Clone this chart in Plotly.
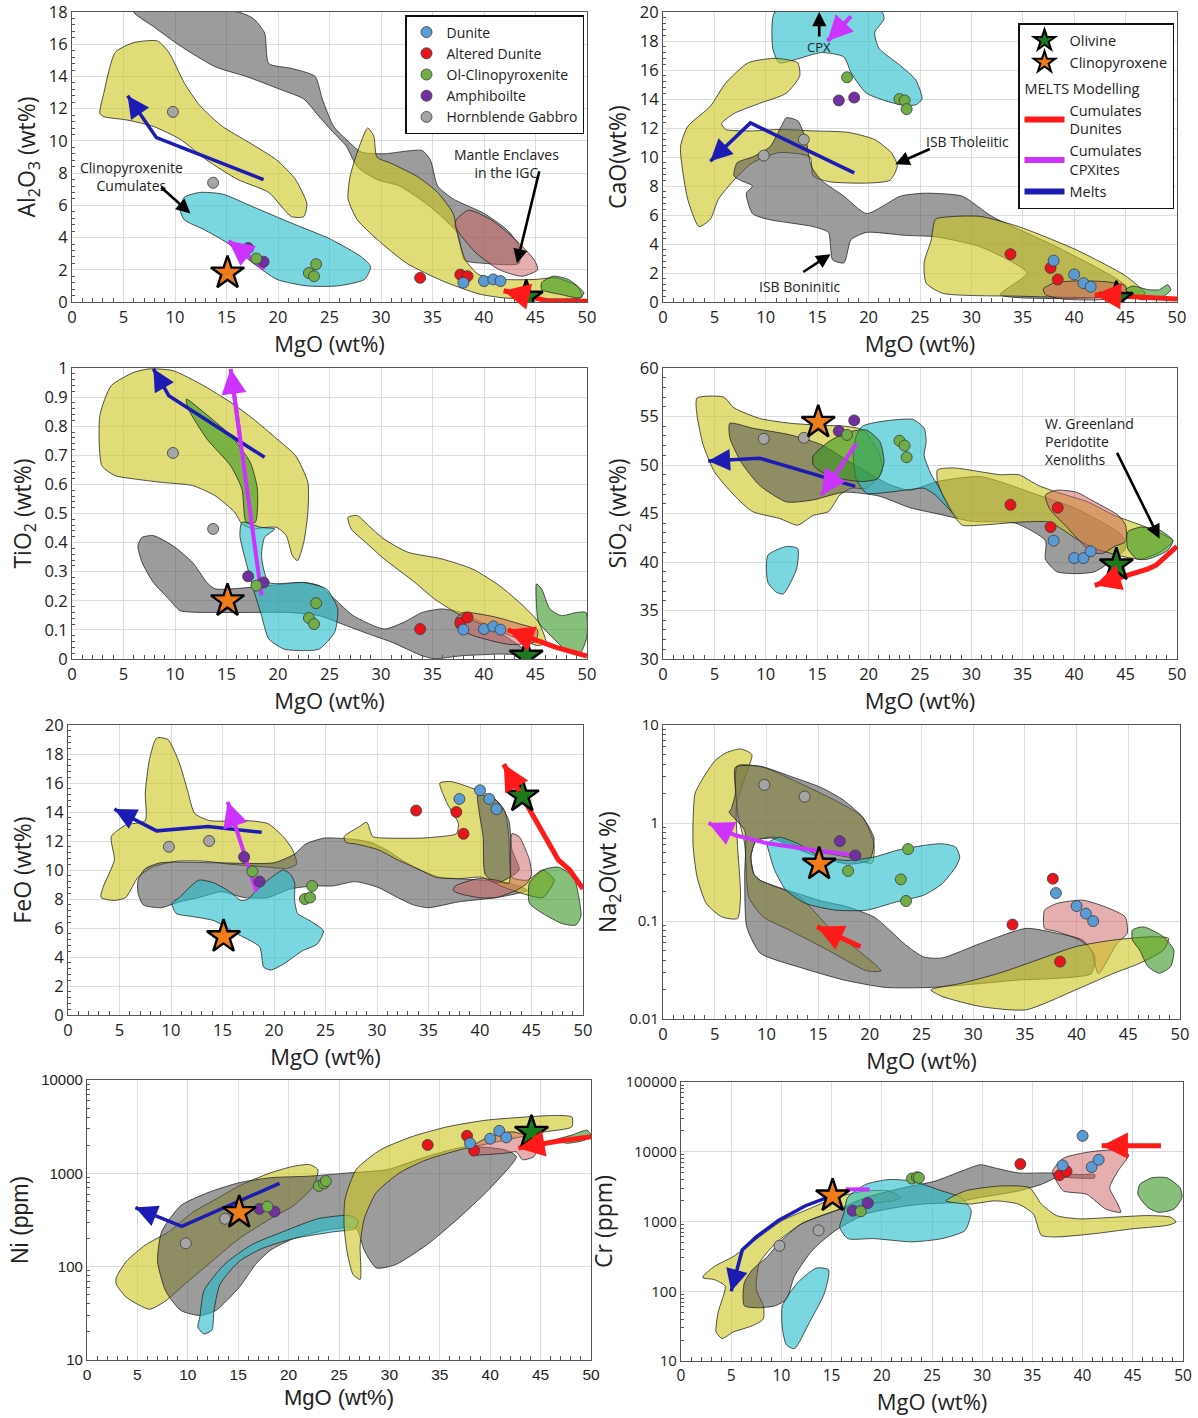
import math
import plotly.graph_objects as go

# ---------------- sample data (MgO wt% shared by all panels) ----------------
MGO_DUNITE = [38.0, 40.0, 40.9, 41.6]
MGO_ALTERED = [33.8, 37.7, 38.4]
MGO_OLCPX = [17.9, 23.0, 23.5, 23.7]
MGO_AMPH = [17.1, 18.6]
MGO_GABBRO = [9.8, 13.7]
MGO_CPX = [15.1]
MGO_OL = [44.1]

AL2O3_DUNITE = [1.2, 1.3, 1.4, 1.3]
AL2O3_ALTERED = [1.5, 1.7, 1.6]
AL2O3_OLCPX = [2.7, 1.8, 1.6, 2.35]
AL2O3_AMPH = [3.35, 2.5]
AL2O3_GABBRO = [11.8, 7.4]
AL2O3_CPX = [1.8]
AL2O3_OL = [0.3]

CAO_DUNITE = [2.85, 1.9, 1.3, 1.05]
CAO_ALTERED = [3.3, 2.35, 1.55]
CAO_OLCPX = [15.5, 14.0, 13.9, 13.3]
CAO_AMPH = [13.9, 14.1]
CAO_GABBRO = [10.1, 11.2]
CAO_CPX = [None]
CAO_OL = [0.25]

TIO2_DUNITE = [0.101, 0.103, 0.112, 0.101]
TIO2_ALTERED = [0.103, 0.124, 0.143]
TIO2_OLCPX = [0.252, 0.141, 0.12, 0.192]
TIO2_AMPH = [0.284, 0.263]
TIO2_GABBRO = [0.708, 0.447]
TIO2_CPX = [0.2]
TIO2_OL = [0.01]

SIO2_DUNITE = [42.2, 40.4, 40.4, 41.1]
SIO2_ALTERED = [45.9, 43.6, 45.6]
SIO2_OLCPX = [53.1, 52.5, 52.0, 50.8]
SIO2_AMPH = [53.5, 54.6]
SIO2_GABBRO = [52.7, 52.8]
SIO2_CPX = [54.4]
SIO2_OL = [39.7]

FEO_DUNITE = [14.9, 15.5, 14.9, 14.2]
FEO_ALTERED = [14.1, 14.0, 12.5]
FEO_OLCPX = [9.9, 8.0, 8.1, 8.9]
FEO_AMPH = [10.9, 9.2]
FEO_GABBRO = [11.6, 12.0]
FEO_CPX = [5.4]
FEO_OL = [15.1]

NA2O_DUNITE = [0.193, 0.142, 0.119, 0.0998]
NA2O_ALTERED = [0.092, 0.270, 0.0385]
NA2O_OLCPX = [0.324, 0.266, 0.160, 0.542]
NA2O_AMPH = [0.653, 0.467]
NA2O_GABBRO = [2.45, 1.86]
NA2O_CPX = [0.38]
NA2O_OL = [None]

NI_DUNITE = [2100, 2350, 2851, 2427]
NI_ALTERED = [2014, 2522, 1754]
NI_OLCPX = [440, 733, 781, 826]
NI_AMPH = [416, 389]
NI_GABBRO = [178, 326]
NI_CPX = [380]
NI_OL = [2750]

CR_DUNITE = [6383, 16900, 6040, 7674]
CR_ALTERED = [6670, 4613, 5248]
CR_OLCPX = [1400, 4130, 4315, 4230]
CR_AMPH = [1429, 1836]
CR_GABBRO = [449, 746]
CR_CPX = [2330]
CR_OL = [None]

# ---------------- literature fields (MgO, oxide) outlines ----------------
AL_GRAY = [(6.0,18),(16.1,18),(17.6,17.6),(18.7,16.7),(19.1,14.8),(21.3,14.5),(23.6,14.0),(24.3,12.6),(25.4,10.9),(26.6,10.1),(28.1,9.3),(30.3,9.2),(34.0,9.4),(34.8,8.8),(35.5,7.2),(37.0,6.4),(40.0,5.5),(42.2,4.5),(43.4,3.5),(43.4,2.4),(40.0,2.4),(38.1,2.6),(37.4,4.3),(34.8,5.9),(31.8,7.2),(29.6,7.6),(27.7,8.4),(26.6,9.7),(25.4,10.5),(24.0,11.5),(22.5,12.6),(20.2,13.2),(16.9,14.0),(13.9,14.6),(10.5,15.9),(7.9,17.1)]
AL_YELLOW1 = [(2.7,11.7),(3.1,13.0),(4.2,15.5),(6.0,16.1),(8.3,16.2),(9.4,15.5),(10.9,13.6),(12.4,12.2),(14.6,10.9),(17.2,9.9),(19.9,8.8),(21.7,7.6),(22.8,6.1),(22.5,5.3),(21.3,5.3),(19.1,6.8),(16.1,7.6),(13.1,8.8),(10.5,10.1),(7.9,10.9),(5.3,11.3),(3.1,11.5)]
AL_YELLOW2 = [(26.8,6.4),(27.0,7.8),(27.7,9.3),(28.7,10.8),(29.3,10.3),(29.6,9.0),(31,8.6),(33.5,7.8),(35.5,6.8),(37.0,5.5),(37.5,4.0),(38.2,2.6),(39.5,1.7),(42,1.4),(45,1.4),(47,1.5),(49,1.0),(49.5,0.3),(46,0.2),(42,0.25),(39.5,0.5),(36,1.3),(32.5,2.4),(29.6,3.9),(27.7,5.1)]
AL_CYAN = [(10.5,5.7),(10.9,6.5),(12.4,6.8),(14.6,6.7),(17.6,5.9),(21.3,4.9),(25.1,3.9),(28.1,2.8),(29.0,2.2),(28.4,1.4),(25.8,1.0),(22.8,1.0),(19.9,1.4),(17.6,2.4),(15.0,3.7),(12.8,4.5),(10.9,5.1)]
AL_PINK = [(37.3,5.1),(38.5,5.7),(40.7,5.1),(43.0,3.9),(44.9,2.6),(45.2,2.0),(43.7,1.6),(41.5,2.0),(39.3,3.0),(37.8,4.1),(37.2,4.7)]
AL_GREEN = [(45.6,1.2),(46.7,1.6),(48.2,1.4),(49.7,0.56),(49.3,0.25),(47.5,0.46),(45.6,0.77)]

CA_CYAN = [(10.9,20),(21.3,20),(21.5,19.5),(20.6,18.6),(21.0,17.5),(23.1,16.3),(24.6,15.3),(25.2,14.0),(24.6,13.6),(23.1,13.6),(19.8,14.4),(18.3,15.8),(17.6,16.9),(15.4,17.2),(12.8,16.7),(11.3,16.5),(10.7,17.4),(10.6,19.0)]
CA_YELLOW1 = [(3.5,5.2),(2.4,7.1),(1.7,10.7),(2.4,12.1),(4.6,13.5),(6.1,15.1),(8.3,16.5),(10.9,16.8),(13.1,16.5),(13.3,15.6),(12.0,14.4),(9.4,13.7),(6.9,13.0),(5.7,12.3),(6.1,11.9),(8.7,11.8),(11.3,11.9),(14.6,11.8),(18.0,11.7),(20.6,11.2),(22.2,10.3),(22.8,9.4),(22.1,8.4),(19.8,8.2),(16.1,8.3),(14.6,8.7),(14.3,10.0),(11.3,10.3),(8.7,9.6),(6.9,8.4),(5.4,7.1),(4.6,5.7)]
CA_GRAY = [(12.0,12.7),(13.1,12.5),(13.9,11.2),(14.4,9.4),(15.4,8.4),(17.6,7.3),(19.8,6.1),(23.1,7.3),(25.4,7.5),(29.1,7.3),(32.0,5.9),(38.3,3.8),(45,1.1),(44.6,0.5),(32.8,0.5),(35.4,2.0),(30.9,3.8),(26.5,4.5),(23.5,4.6),(19.8,4.8),(18.3,4.3),(17.6,2.7),(16.5,2.9),(16.3,3.8),(16.1,4.8),(14.6,5.2),(10.2,5.7),(8.7,6.1),(8.1,7.5),(8.7,8.0),(7.5,8.4),(6.9,8.7),(7.2,9.6),(8.7,10.0),(10.4,10.7),(11.5,12.1)]
CA_YELLOW2 = [(26.5,5.7),(28.3,5.9),(30.9,5.9),(34.6,5.2),(40.2,3.6),(45.0,1.8),(46.9,0.6),(46.5,0.4),(42.0,0.3),(34.6,0.4),(27.2,0.6),(25.6,1.3),(25.4,2.7),(26.1,4.3)]
CA_PINK = [(37,0.9),(38,1.3),(40,1.45),(43,1.4),(45,1.1),(45,0.4),(42,0.15),(39,0.2),(37.2,0.5)]
CA_GREEN = [(45,0.85),(45.7,1.1),(47.2,0.85),(48.3,0.85),(49.1,1.2),(49.4,0.85),(48.7,0.4),(46.5,0.16)]

TI_YELLOW1 = [(2.9,0.664),(2.7,0.836),(3.8,0.939),(6.0,0.985),(7.5,0.997),(9.8,0.991),(12.8,0.939),(15.4,0.882),(17.6,0.825),(19.9,0.756),(21.7,0.699),(22.9,0.607),(22.9,0.504),(22.5,0.401),(21.9,0.338),(21.4,0.355),(20.8,0.424),(19.9,0.452),(18.7,0.452),(17.6,0.447),(16.5,0.464),(15.8,0.504),(13.9,0.561),(11.7,0.596),(8.7,0.607),(6.0,0.619),(4.2,0.630)]
TI_GREEN1 = [(11.1,0.893),(12.8,0.848),(15.4,0.768),(17.3,0.676),(18.0,0.584),(17.8,0.47),(16.9,0.47),(16.5,0.584),(15.4,0.664),(13.1,0.756),(11.3,0.859)]
TI_CYAN = [(16.5,0.47),(18.4,0.452),(19.7,0.447),(18.7,0.418),(18.4,0.355),(19.1,0.263),(22.5,0.263),(24.7,0.241),(25.8,0.172),(25.5,0.092),(24.0,0.034),(22.5,0.029),(20.6,0.034),(19.1,0.069),(18.4,0.149),(17.6,0.241),(16.9,0.332),(16.3,0.424)]
TI_GRAY = [(6.8,0.418),(7.9,0.424),(9.8,0.389),(11.7,0.332),(13.1,0.263),(13.9,0.241),(19.1,0.252),(22.5,0.263),(24.0,0.252),(25.5,0.206),(27.3,0.149),(30.3,0.103),(32.2,0.126),(34.0,0.160),(35.9,0.172),(37.8,0.160),(41.5,0.092),(43.4,0.046),(44.5,0.017),(41.5,0.017),(37.8,0.011),(35.2,0.001),(34.0,0.011),(31.1,0.057),(28.8,0.086),(26.6,0.115),(24.0,0.149),(21.0,0.160),(17.2,0.160),(13.9,0.160),(10.5,0.166),(9.4,0.206),(7.9,0.263),(6.8,0.332),(6.4,0.389)]
TI_YELLOW2 = [(26.8,0.487),(27.7,0.493),(28.8,0.458),(30.3,0.412),(32.6,0.367),(35.9,0.344),(38.9,0.309),(41.5,0.252),(43.8,0.183),(45.3,0.126),(46.0,0.057),(45.3,0.046),(43.4,0.069),(37.8,0.149),(35.2,0.206),(33.3,0.263),(30.3,0.344),(28.5,0.401),(27.1,0.447)]
TI_PINK = [(37.3,0.14),(38,0.16),(41,0.145),(43.5,0.12),(45.2,0.1),(45,0.06),(42.5,0.05),(39,0.08),(37.3,0.11)]
TI_GREEN2 = [(45.1,0.258),(45.6,0.24),(46.4,0.172),(47.5,0.149),(49.0,0.160),(49.9,0.160),(50,0.080),(49.4,0.023),(48.2,0.023),(46.8,0.069),(45.3,0.126),(45.1,0.183)]

SI_YELLOW1 = [(3.3,56.9),(5.9,57.0),(6.9,55.9),(9.4,54.8),(12.4,54.3),(15.4,54.1),(17.6,54.0),(19.5,53.6),(21.1,51.0),(21.3,49.3),(19.8,47.6),(18.3,47.6),(17.2,46.9),(16.1,45.2),(14.6,44.8),(13.1,43.8),(11.3,44.5),(8.7,45.2),(6.9,46.9),(5.0,49.3),(3.9,52.1),(3.3,55.2)]
SI_GRAY = [(6.5,54.3),(8.7,53.8),(12.4,53.1),(15.4,52.1),(17.6,50.7),(19.8,49.3),(22,48.0),(24,47.4),(26.7,48.3),(30.9,48.8),(36.5,46.9),(40.2,45.5),(44.6,42.8),(45,41.4),(43.9,40.3),(42,39.0),(40.2,38.8),(38.3,39.0),(37.2,40.3),(37.2,42.2),(34.3,44.0),(30,44.2),(27,44.9),(24,45.6),(21,46.8),(17.6,47.2),(14.6,46.4),(12.0,46.2),(9.4,47.9),(7.6,50.3),(6.5,52.8)]
SI_CYAN1 = [(19.4,54.0),(21.3,54.5),(24.3,54.7),(25.4,53.8),(25.6,52.4),(25.4,51.0),(26.1,49.0),(26.9,47.6),(28.0,45.5),(28.7,44.5),(27.5,45.8),(26.5,46.9),(25.4,47.6),(23.5,47.4),(22.0,47.2),(19.8,47.1),(18.8,48.5),(18.5,51),(18.8,53)]
SI_CYAN2 = [(10.2,40.7),(12.0,41.6),(13.1,41.4),(13.0,39.3),(11.7,36.7),(11.0,36.9),(10.2,37.9)]
SI_GREEN1 = [(14.6,50.9),(16.1,52.4),(18.0,53.4),(19.8,53.6),(21.1,52.4),(21.5,50.3),(20.9,48.6),(19.4,48.3),(17.2,48.6),(15.4,49.3),(14.6,50.0)]
SI_YELLOW2 = [(26.7,49.5),(28.3,49.7),(30.9,49.3),(32.8,49.0),(34.6,49.0),(36.5,47.9),(38.3,47.2),(41.3,46.2),(43.9,44.8),(46.5,43.8),(48.7,42.8),(49.6,42.2),(48.3,41.0),(46.5,40.3),(45.0,40.5),(42.0,41.4),(40.2,42.4),(37.6,44.1),(34.6,44.1),(30.9,43.8),(29.1,43.8),(28.3,44.8),(27.2,46.9),(26.7,48.3)]
SI_PINK = [(37.2,46.9),(38.3,47.4),(40.2,47.2),(42.0,46.2),(44.3,44.8),(45.0,43.8),(45.0,42.1),(43.9,41.6),(42.8,40.9),(41.7,41.0),(40.6,42.1),(39.1,43.8),(37.6,45.5)]
SI_GREEN2 = [(45.2,43.1),(46.5,43.6),(48.3,43.3),(49.6,42.2),(49.1,41.2),(47.2,40.3),(46.1,40.3),(45.2,41.4)]

FE_YELLOW1 = [(3.2,8.1),(3.4,8.8),(4.5,10.7),(4.2,12.3),(5.6,13.1),(7.5,13.4),(7.5,15.3),(7.9,17.6),(8.6,19.1),(9.7,19.0),(10.8,17.4),(11.6,15.5),(12.3,13.9),(13.8,13.4),(17.5,13.4),(19.4,13.2),(20.9,12.3),(21.8,11.4),(22.2,10.4),(21.2,10.1),(19.4,10.2),(15.7,10.4),(13.4,10.6),(10.5,10.6),(8.2,10.2),(6.8,9.5),(5.6,8.1),(4.5,7.9)]
FE_GRAY1 = [(6.8,9.3),(7.5,10.1),(9.0,10.5),(14.2,10.5),(20,10.5),(22.0,11.1),(23.1,11.8),(24.9,12.2),(27.9,12.1),(29.4,11.9),(30.9,11.4),(32.4,10.7),(34.2,10.0),(36.1,9.5),(37.9,9.4),(40.2,9.3),(42.8,9.1),(44.6,8.6),(41.6,8.1),(37.9,7.8),(35.0,7.4),(33.5,7.6),(32.0,8.1),(30.1,8.8),(27.9,9.2),(25.7,8.9),(23.8,8.9),(21.6,8.7),(19.4,8.1),(17.1,8.1),(14.9,8.5),(12.7,8.1),(10.8,7.8),(9.0,7.4),(7.3,7.6),(6.8,8.4)]
FE_CYAN = [(10.1,7.7),(10.8,8.1),(12.7,9.3),(14.2,9.1),(15.7,8.5),(16.8,7.9),(17.5,8.0),(18.3,8.6),(19.4,9.3),(20.9,10.0),(21.6,9.7),(22.0,9.1),(22.0,7.9),(22.3,7.0),(23.5,6.5),(24.8,5.8),(24.2,4.9),(22.7,4.4),(20.9,3.5),(19.7,3.1),(19.0,3.3),(18.6,4.7),(16.4,5.6),(14.2,6.5),(12.0,6.8),(10.5,7.0)]
FE_YELLOW2 = [(26.8,12.3),(28.3,13.0),(29.0,13.3),(29.6,12.3),(31,12.2),(34.2,12.2),(36.1,12.3),(37.7,12.5),(37.9,13.2),(36.8,14.6),(36.1,16.0),(37.2,16.1),(39.0,15.7),(41.3,15.0),(42.4,14.1),(42.8,12.3),(43.1,9.5),(44.6,9.3),(46.1,10.0),(47.2,9.3),(46.1,8.1),(44,8.4),(42,8.9),(40.2,9.5),(37.9,9.4),(35.7,9.5),(34.2,10.0),(32.0,10.7),(30.1,11.4),(27.9,11.8),(27.0,11.9)]
FE_GRAY2 = [(39.8,15.2),(41.6,14.8),(42.8,13.4),(43.1,11.4),(43.8,10.0),(41.6,9.1),(40.5,9.7),(40.3,12.3),(39.9,14.1)]
FE_PINK = [(37.6,8.9),(39.8,9.4),(41.6,9.3),(42.8,9.1),(43.1,12.5),(43.8,12.3),(44.8,10.7),(45.0,9.7),(44.6,9.1),(43.5,8.6),(41.6,8.1),(39.8,8.1),(37.9,8.4),(37.4,8.6)]
FE_GREEN = [(44.8,9.1),(46.1,10.0),(47.6,10.2),(49.1,9.5),(49.6,8.1),(49.8,6.8),(49.3,6.2),(48.0,6.3),(46.1,7.0),(44.8,7.7)]

NA_YELLOW1 = [(3.9,2.9),(5.0,4.3),(6.1,5.2),(7.5,5.7),(8.6,5.0),(7.9,2.9),(7.1,1.5),(7.2,0.6),(7.5,0.18),(7.2,0.106),(5.7,0.11),(4.2,0.15),(3.3,0.28),(2.9,0.61),(3.1,2.0)]
NA_YELLOW2 = [(7.2,3.83),(9.7,3.7),(13.4,2.5),(16.7,1.69),(19.3,1.15),(20.4,0.61),(20.2,0.39),(17.8,0.45),(14.5,0.52),(11.6,0.66),(10.7,0.72),(9.0,0.66),(8.5,0.45),(8.8,0.30),(9.4,0.26),(13.1,0.18),(14.5,0.13),(16.0,0.087),(18.9,0.05),(21.1,0.031),(19.7,0.031),(16.0,0.05),(12.3,0.08),(9.7,0.11),(8.3,0.175),(7.9,0.61),(7.2,1.3)]
NA_GRAY = [(7.0,3.7),(9.4,3.8),(12.3,3.0),(15.3,2.3),(17.5,1.7),(19.3,1.15),(20.4,0.7),(20.0,0.42),(18.0,0.38),(15,0.45),(12,0.6),(10.5,0.7),(9.0,0.66),(8.5,0.45),(8.8,0.30),(9.4,0.26),(11.2,0.22),(13.1,0.19),(15.3,0.16),(17.8,0.14),(20.4,0.11),(21.9,0.081),(23.3,0.059),(25.2,0.043),(27,0.042),(30.7,0.059),(35.1,0.084),(38.1,0.075),(40.6,0.064),(41.8,0.043),(41.4,0.029),(38.1,0.026),(34.4,0.025),(30.7,0.023),(25.9,0.021),(21.5,0.021),(17.5,0.025),(13.1,0.034),(9.4,0.047),(8.1,0.087),(7.9,0.28),(7.9,0.84),(6.4,1.29),(6.6,1.4),(7.0,2.0)]
NA_CYAN = [(10.1,0.614),(11.2,0.716),(13,0.62),(15.3,0.449),(17.8,0.415),(20.4,0.449),(22.6,0.525),(25.2,0.59),(27.0,0.614),(28.3,0.568),(28.7,0.449),(28.3,0.355),(27.0,0.24),(25.2,0.183),(22.6,0.157),(19.7,0.129),(16.7,0.129),(13.8,0.151),(11.9,0.206),(10.8,0.329),(10.3,0.485)]
NA_PINK = [(36.8,0.094),(36.9,0.129),(38.1,0.151),(40.6,0.163),(42.8,0.139),(44.7,0.110),(44.9,0.075),(43.9,0.059),(42.1,0.029),(41.4,0.051),(40.3,0.064),(38.1,0.078),(36.9,0.084)]
NA_YELLOW3 = [(25.9,0.0198),(28.9,0.0232),(32.5,0.0293),(36.2,0.04),(39.9,0.0547),(43.6,0.064),(47.2,0.069),(48.9,0.0665),(48.4,0.0506),(46.1,0.037),(43.6,0.0293),(39.9,0.0198),(35.1,0.0124),(30.7,0.0134),(27.0,0.017)]
NA_GREEN = [(45.4,0.081),(46.5,0.087),(48.4,0.069),(49.4,0.0506),(49.1,0.0343),(48.0,0.0293),(46.9,0.0343),(46.1,0.0506),(45.4,0.064)]

NI_YELLOW1 = [(2.9,76),(3.9,114),(5.8,171),(8.1,236),(10.5,383),(12.8,530),(15.1,733),(18.2,1012),(20.5,1191),(22.1,1240),(22.9,1096),(22.5,733),(20.5,451),(18.2,326),(15.1,200),(12.0,105),(9.7,65),(7.8,43),(6.2,35),(3.9,47),(2.9,65)]
NI_GRAY = [(7.0,114),(7.4,236),(9.3,451),(12.0,622),(15.1,794),(18.2,897),(22.1,933),(26.0,1011),(29.8,1096),(33.7,1514),(37.6,1932),(41.5,1780),(42.6,1514),(39.9,676),(36.8,326),(33.7,171),(30.6,105),(28.7,97),(27.5,150),(26.7,256),(24,250),(20.5,200),(18.2,150),(16.7,105),(15.1,60),(12.8,34),(11.2,30),(9.3,34),(7.8,55)]
NI_CYAN = [(11.2,29),(11.6,55),(13.6,105),(16.3,171),(19.4,236),(22.9,326),(26.0,353),(26.9,313),(26.6,256),(24.4,236),(20.5,200),(17.4,157),(15.1,114),(13.2,65),(12.6,34),(12.4,21),(11.6,19),(11.0,22.5)]
NI_YELLOW2 = [(25.6,530),(26.7,1096),(29.1,1782),(32.2,2466),(35.7,3144),(39.5,3698),(43.4,4010),(46.5,4170),(48.1,4010),(48.1,3144),(45.4,2784),(43.1,2466),(40.0,2100),(37.6,1858),(33.7,1400),(31.0,1011),(28.7,622),(27.5,326),(27.1,171),(27.1,73),(26.4,82),(25.8,145),(25.5,277)]
NI_PINK = [(38.0,1858),(39.9,2460),(42.2,2784),(43.8,2466),(44.7,1860),(44.3,1500),(43.2,1400),(42.6,1700),(41.5,1644),(39.5,1585),(38.1,1585)]
NI_GREEN = [(46.5,2275),(48.1,2570),(49.6,2900),(50,2570),(49.4,2275),(47.6,2100)]

CR_YELLOW1 = [(2.2,164),(3.3,226),(5.2,314),(7.8,601),(10.1,1033),(13.1,1594),(15.4,2208),(18.4,2740),(20.7,2740),(21.9,2208),(21.1,1977),(18.4,1778),(15.4,1429),(12.0,927),(9.4,484),(7.8,252),(7.5,106),(8.2,62),(8.2,40),(7.1,32),(5.2,26),(4.1,21),(3.5,26),(3.7,50),(4.4,118),(3.3,147),(2.2,155)]
CR_YELLOW2 = [(26.4,1977),(28.3,2740),(31.7,3222),(34.7,3056),(35.9,1778),(37.4,1216),(39.7,1091),(43.1,1151),(46.5,1216),(48.8,1151),(49.3,979),(48.4,879),(45.0,787),(41.2,670),(37.4,601),(35.9,634),(35.1,1282),(33.6,1778),(31.3,1977),(28.7,1778)]
CR_GRAY = [(6.3,62),(6.3,132),(7.1,203),(8.6,313),(9.7,484),(12.0,927),(15.4,1429),(18.4,2208),(22.2,3056),(25.3,3793),(27.9,5248),(29.8,6516),(31.3,5847),(33.6,4966),(36.6,4966),(39.7,4710),(41.2,4710),(41.2,4230),(37.4,4230),(35.9,3404),(33.6,2740),(29.8,2208),(27.2,1875),(24.1,1778),(21.5,1594),(18.4,1282),(15.4,746),(13.1,390),(11.3,164),(10.5,77),(9.4,62),(7.8,58)]
CR_CYAN1 = [(16.2,1282),(16.6,2208),(18.4,3404),(20.7,4000),(23.0,3793),(26.0,2740),(27.9,2208),(28.9,1429),(28.3,746),(26.0,569),(23.0,511),(19.2,569),(16.6,569),(15.8,832)]
CR_CYAN2 = [(10.1,62),(11.6,132),(13.5,215),(14.7,203),(14.3,95),(12.8,36),(11.3,15),(10.5,17),(10.1,29)]
CR_PINK = [(37.0,5248),(38.1,8090),(40.8,10000),(43.8,10600),(44.6,9016),(43.5,5248),(42.7,3056),(43.5,1778),(43.8,1355),(42.3,1510),(40.4,2455),(38.1,2740),(37.4,3793)]
CR_GREEN = [(45.7,3404),(46.9,4230),(48.4,4230),(49.7,3056),(49.9,2208),(49.1,1510),(47.6,1355),(46.5,1594),(45.5,2455)]

# ---------------- MELTS model paths ----------------
AL_BLUE = [(18.6,7.6),(8.2,10.2),(5.4,12.8)]
AL_MAGENTA = [(18.7,2.05),(15.2,3.8)]
AL_RED = [(50,0.05),(46.3,0.05),(41.9,0.7)]
CA_BLUE = [(18.6,8.9),(8.5,12.35),(4.6,9.7)]
CA_MAGENTA = [(18.3,19.7),(16.0,18.0)]
CA_RED = [(50,0.2),(46,0.35),(42,0.5)]
TI_BLUE = [(18.7,0.693),(9.4,0.905),(7.9,0.997)]
TI_MAGENTA = [(18.4,0.218),(15.4,0.997)]
TI_RED = [(50,0.01),(47,0.04),(42.3,0.1)]
SI_BLUE = [(18.7,47.8),(9.4,50.7),(4.4,50.4)]
SI_MAGENTA = [(18.8,52.2),(15.4,46.9)]
SI_RED = [(50,41.6),(48.0,39.7),(47.2,39.3),(42.0,37.6)]
FE_BLUE = [(18.8,12.6),(13.6,13.0),(8.6,12.7),(4.5,14.2)]
FE_MAGENTA = [(18.3,8.5),(15.5,14.7)]
FE_RED = [(50,8.7),(48.7,10.0),(47.6,10.7),(42.3,17.3)]
NA_MAGENTA = [(18.6,0.47),(14.5,0.53),(10.1,0.62),(7,0.75),(4.4,1.0)]
NA_RED = [(19.1,0.0547),(14.9,0.0873)]
NI_BLUE = [(19.1,781),(9.4,270),(4.8,430)]
NI_RED = [(50,2466),(46.5,2190),(42.8,1862)]
CR_MAGENTA = [(18.8,2890),(16.4,2890)]
CR_BLUE = [(15.0,2330),(12.4,1683),(9.7,1033),(7.5,601),(6.1,390),(5.0,100)]
CR_RED = [(47.8,12220),(41.9,12220)]

# ---------------- styles ----------------
FILL = {
    "gray": "rgba(85,85,85,0.58)",
    "yellow": "rgba(205,198,35,0.62)",
    "cyan": "rgba(40,190,205,0.62)",
    "green": "rgba(55,150,35,0.6)",
    "pink": "rgba(205,95,95,0.5)",
}
C_DUNITE = "#5b9bd5"
C_ALTERED = "#e8141b"
C_OLCPX = "#70ad47"
C_AMPH = "#7030a0"
C_GABBRO = "#a5a5a5"
C_RED = "#ff1a1a"
C_MAG = "#cc33ff"
C_BLUE = "#1c1cb4"

PANELS = [
    dict(yt="Al<sub>2</sub>O<sub>3</sub> (wt%)", yr=[0, 18], dt=2, log=False,
         fields=[("gray", AL_GRAY), ("yellow", AL_YELLOW1), ("yellow", AL_YELLOW2), ("cyan", AL_CYAN), ("pink", AL_PINK), ("green", AL_GREEN)],
         pts=(AL2O3_DUNITE, AL2O3_ALTERED, AL2O3_OLCPX, AL2O3_AMPH, AL2O3_GABBRO, AL2O3_CPX, AL2O3_OL),
         arrows=[(AL_BLUE, C_BLUE, 3.5), (AL_MAGENTA, C_MAG, 4), (AL_RED, C_RED, 5)],
         dom=(72, 587, 12, 302)),
    dict(yt="CaO(wt%)", yr=[0, 20], dt=2, log=False,
         fields=[("cyan", CA_CYAN), ("yellow", CA_YELLOW1), ("gray", CA_GRAY), ("yellow", CA_YELLOW2), ("pink", CA_PINK), ("green", CA_GREEN)],
         pts=(CAO_DUNITE, CAO_ALTERED, CAO_OLCPX, CAO_AMPH, CAO_GABBRO, CAO_CPX, CAO_OL),
         arrows=[(CA_BLUE, C_BLUE, 3.5), (CA_MAGENTA, C_MAG, 4), (CA_RED, C_RED, 5)],
         dom=(663, 1177, 12, 302)),
    dict(yt="TiO<sub>2</sub> (wt%)", yr=[0, 1], dt=0.1, log=False,
         fields=[("gray", TI_GRAY), ("yellow", TI_YELLOW1), ("green", TI_GREEN1), ("cyan", TI_CYAN), ("yellow", TI_YELLOW2), ("pink", TI_PINK), ("green", TI_GREEN2)],
         pts=(TIO2_DUNITE, TIO2_ALTERED, TIO2_OLCPX, TIO2_AMPH, TIO2_GABBRO, TIO2_CPX, TIO2_OL),
         arrows=[(TI_BLUE, C_BLUE, 3.5), (TI_MAGENTA, C_MAG, 4), (TI_RED, C_RED, 5)],
         dom=(72, 587, 368, 659)),
    dict(yt="SiO<sub>2</sub> (wt%)", yr=[30, 60], dt=5, log=False,
         fields=[("yellow", SI_YELLOW1), ("gray", SI_GRAY), ("cyan", SI_CYAN1), ("cyan", SI_CYAN2), ("green", SI_GREEN1), ("yellow", SI_YELLOW2), ("pink", SI_PINK), ("green", SI_GREEN2)],
         pts=(SIO2_DUNITE, SIO2_ALTERED, SIO2_OLCPX, SIO2_AMPH, SIO2_GABBRO, SIO2_CPX, SIO2_OL),
         arrows=[(SI_BLUE, C_BLUE, 3.5), (SI_MAGENTA, C_MAG, 4), (SI_RED, C_RED, 5)],
         dom=(663, 1177, 368, 659)),
    dict(yt="FeO (wt%)", yr=[0, 20], dt=2, log=False,
         fields=[("yellow", FE_YELLOW1), ("gray", FE_GRAY1), ("cyan", FE_CYAN), ("yellow", FE_YELLOW2), ("gray", FE_GRAY2), ("pink", FE_PINK), ("green", FE_GREEN)],
         pts=(FEO_DUNITE, FEO_ALTERED, FEO_OLCPX, FEO_AMPH, FEO_GABBRO, FEO_CPX, FEO_OL),
         arrows=[(FE_BLUE, C_BLUE, 3.5), (FE_MAGENTA, C_MAG, 4), (FE_RED, C_RED, 5)],
         dom=(68, 583, 725, 1015)),
    dict(yt="Na<sub>2</sub>O(wt %)", yr=[-2, 1], dt=None, log=True, tv=[0.01, 0.1, 1, 10], tt=["0.01", "0.1", "1", "10"],
         fields=[("yellow", NA_YELLOW1), ("yellow", NA_YELLOW2), ("gray", NA_GRAY), ("cyan", NA_CYAN), ("pink", NA_PINK), ("yellow", NA_YELLOW3), ("green", NA_GREEN)],
         pts=(NA2O_DUNITE, NA2O_ALTERED, NA2O_OLCPX, NA2O_AMPH, NA2O_GABBRO, NA2O_CPX, NA2O_OL),
         arrows=[(NA_MAGENTA, C_MAG, 4), (NA_RED, C_RED, 5)],
         dom=(663, 1180, 725, 1019)),
    dict(yt="Ni (ppm)", yr=[1, 4], dt=None, log=True, tv=[10, 100, 1000, 10000], tt=["10", "100", "1000", "10000"],
         fields=[("yellow", NI_YELLOW1), ("gray", NI_GRAY), ("cyan", NI_CYAN), ("yellow", NI_YELLOW2), ("pink", NI_PINK), ("green", NI_GREEN)],
         pts=(NI_DUNITE, NI_ALTERED, NI_OLCPX, NI_AMPH, NI_GABBRO, NI_CPX, NI_OL),
         arrows=[(NI_BLUE, C_BLUE, 3.5), (NI_RED, C_RED, 5)],
         dom=(87, 591, 1080, 1360)),
    dict(yt="Cr (ppm)", yr=[1, 5], dt=None, log=True, tv=[10, 100, 1000, 10000, 100000], tt=["10", "100", "1000", "10000", "100000"],
         fields=[("yellow", CR_YELLOW1), ("gray", CR_GRAY), ("cyan", CR_CYAN1), ("cyan", CR_CYAN2), ("yellow", CR_YELLOW2), ("pink", CR_PINK), ("green", CR_GREEN)],
         pts=(CR_DUNITE, CR_ALTERED, CR_OLCPX, CR_AMPH, CR_GABBRO, CR_CPX, CR_OL),
         arrows=[(CR_MAGENTA, C_MAG, 4), (CR_BLUE, C_BLUE, 3.5), (CR_RED, C_RED, 5)],
         dom=(681, 1183, 1082, 1361)),
]

W, H = 1198, 1418
fig = go.Figure()
annotations = []
layout = {}


def ax_names(i):
    return ("x" if i == 1 else f"x{i}"), ("y" if i == 1 else f"y{i}")


for i, p in enumerate(PANELS, start=1):
    xa, ya = ax_names(i)
    for col, poly in p["fields"]:
        xs = [q[0] for q in poly] + [poly[0][0]]
        ys = [q[1] for q in poly] + [poly[0][1]]
        fig.add_trace(go.Scatter(x=xs, y=ys, mode="lines", fill="toself", fillcolor=FILL[col],
                                 line=dict(color="rgba(30,30,30,0.85)", width=0.9, shape="spline", smoothing=0.6),
                                 xaxis=xa, yaxis=ya, hoverinfo="skip", showlegend=False))

for i, p in enumerate(PANELS, start=1):
    xa, ya = ax_names(i)
    for path, col, w in p["arrows"]:
        xs = [q[0] for q in path]
        ys = [q[1] for q in path]
        fig.add_trace(go.Scatter(x=xs, y=ys, mode="lines", line=dict(color=col, width=w),
                                 xaxis=xa, yaxis=ya, hoverinfo="skip", showlegend=False))
        f = (lambda v: math.log10(v)) if p["log"] else (lambda v: v)
        tx, ty = xs[-1], f(ys[-1])
        px, py = xs[-2], f(ys[-2])
        frac = 0.3
        annotations.append(dict(x=tx, y=ty, ax=tx + frac * (px - tx), ay=ty + frac * (py - ty),
                                xref=xa, yref=ya, axref=xa, ayref=ya,
                                text="", showarrow=True, arrowhead=2,
                                arrowsize=1.05 if w >= 5 else 1.25, arrowwidth=w,
                                arrowcolor=col, standoff=0))

for i, p in enumerate(PANELS, start=1):
    xa, ya = ax_names(i)
    dun, alt, olc, amp, gab, cpx, ol = p["pts"]
    for mg, vals, col in ((MGO_GABBRO, gab, C_GABBRO), (MGO_AMPH, amp, C_AMPH), (MGO_OLCPX, olc, C_OLCPX),
                          (MGO_ALTERED, alt, C_ALTERED), (MGO_DUNITE, dun, C_DUNITE)):
        fig.add_trace(go.Scatter(x=mg, y=vals, mode="markers",
                                 marker=dict(size=11, color=col, line=dict(color="#3a3a3a", width=0.8)),
                                 xaxis=xa, yaxis=ya, hoverinfo="skip", showlegend=False))
    for mg, vals, col in ((MGO_CPX, cpx, "#f07d1a"), (MGO_OL, ol, "#1b7a1b")):
        fig.add_trace(go.Scatter(x=mg, y=vals, mode="markers",
                                 marker=dict(size=25, symbol="star", color=col, line=dict(color="black", width=2.4)),
                                 xaxis=xa, yaxis=ya, hoverinfo="skip", showlegend=False))

# legend-only entries
for name, col in (("Dunite", C_DUNITE), ("Altered Dunite", C_ALTERED), ("Ol-Clinopyroxenite", C_OLCPX),
                  ("Amphiboilte", C_AMPH), ("Hornblende Gabbro", C_GABBRO)):
    fig.add_trace(go.Scatter(x=[None], y=[None], mode="markers", name=name, legend="legend",
                             marker=dict(size=11, color=col, line=dict(color="#3a3a3a", width=0.8))))
for name, col in (("Olivine", "#1b7a1b"), ("Clinopyroxene", "#f07d1a")):
    fig.add_trace(go.Scatter(x=[None], y=[None], mode="markers", name=name, legend="legend2", legendgroup="min",
                             marker=dict(size=18, symbol="star", color=col, line=dict(color="black", width=2))))
first = True
for name, col in (("Cumulates<br>Dunites", C_RED), ("Cumulates<br>CPXites", C_MAG), ("Melts", C_BLUE)):
    fig.add_trace(go.Scatter(x=[None], y=[None], mode="lines", name=name, legend="legend2", legendgroup="melts",
                             legendgrouptitle=dict(text="MELTS Modelling") if first else None,
                             line=dict(color=col, width=6)))
    first = False


def label(i, x, y, text, align="center", xanchor="center", size=14):
    xa, ya = ax_names(i)
    annotations.append(dict(x=x, y=y, xref=xa, yref=ya, text=text, showarrow=False, align=align,
                            xanchor=xanchor, font=dict(size=size, color="#222")))


def pointer(i, tail, tip):
    xa, ya = ax_names(i)
    annotations.append(dict(x=tip[0], y=tip[1], ax=tail[0], ay=tail[1], xref=xa, yref=ya, axref=xa, ayref=ya,
                            text="", showarrow=True, arrowhead=2, arrowsize=1.1, arrowwidth=2.6,
                            arrowcolor="black", standoff=0))


label(1, 5.8, 7.8, "Clinopyroxenite<br>Cumulates")
pointer(1, (8.5, 7.2), (11.5, 5.5))
label(1, 42.2, 8.6, "Mantle Enclaves<br>in the IGC")
pointer(1, (45.4, 8.2), (43.2, 2.4))
label(2, 15.2, 17.6, "CPX", size=13)
pointer(2, (15.2, 18.2), (15.2, 20))
label(2, 29.6, 11.1, "ISB Tholeiitic")
pointer(2, (26.1, 10.6), (22.6, 9.5))
label(2, 13.3, 1.1, "ISB Boninitic")
pointer(2, (13.5, 2.0), (16.3, 3.3))
label(4, 37.0, 52.4, "W. Greenland<br>Peridotite<br>Xenoliths", align="left", xanchor="left")
pointer(4, (44.1, 51.4), (48.3, 42.4))

# axes
for i, p in enumerate(PANELS, start=1):
    xa, ya = ax_names(i)
    x0, x1, y0, y1 = p["dom"]
    fam = "Liberation Sans" if i == 7 else "Open Sans"
    bottom = i >= 7
    xkey = "xaxis" if i == 1 else f"xaxis{i}"
    ykey = "yaxis" if i == 1 else f"yaxis{i}"
    layout[xkey] = dict(domain=[x0 / W, x1 / W], anchor=ya, range=[0, 50], dtick=5, tick0=0,
                        showgrid=True, gridcolor="#dcdcdc", gridwidth=1, zeroline=False,
                        showline=True, linecolor="#555", linewidth=1.2, mirror=True, ticks="",
                        ticklabeloverflow="allow",
                        tickfont=dict(size=15.5 if bottom else 16.5, color="#222", family=fam),
                        minor=dict(ticks="inside", dtick=1, ticklen=4, tickcolor="#555", showgrid=False),
                        title=dict(text="MgO (wt%)", font=dict(size=22, color="#222", family=fam),
                                   standoff=7 if bottom else 5),
                        automargin=False)
    yd = dict(domain=[1 - y1 / H, 1 - y0 / H], anchor=xa, range=p["yr"],
              showgrid=True, gridcolor="#dcdcdc", gridwidth=1, zeroline=False,
              showline=True, linecolor="#555", linewidth=1.2, mirror=True, ticks="",
              ticklabeloverflow="allow",
              tickfont=dict(size=16.5 if not p["log"] else 15, color="#222", family=fam),
              title=dict(text=p["yt"], font=dict(size=23, color="#222", family=fam), standoff=6),
              automargin=False)
    if p["log"]:
        lo, hi = int(p["yr"][0]), int(p["yr"][1])
        mv = [k * 10 ** e for e in range(lo, hi) for k in range(2, 10)]
        yd.update(type="log", tickvals=p["tv"], ticktext=p["tt"],
                  minor=dict(ticks="inside", tickvals=mv, ticklen=3, tickcolor="#555", showgrid=False))
    else:
        yd.update(dtick=p["dt"], tick0=p["yr"][0],
                  minor=dict(ticks="inside", dtick=p["dt"] / 5, ticklen=3, tickcolor="#555", showgrid=False))
    layout[ykey] = yd

fig.update_layout(
    width=W, height=H, margin=dict(l=0, r=0, t=0, b=0),
    paper_bgcolor="white", plot_bgcolor="white",
    font=dict(family="Open Sans", color="#222"),
    hovermode=False,
    annotations=annotations,
    legend=dict(x=405 / W, y=1 - 15 / H, xanchor="left", yanchor="top", bgcolor="white",
                bordercolor="#111", borderwidth=1.5, font=dict(size=14), tracegroupgap=0),
    legend2=dict(x=1018 / W, y=1 - 23 / H, xanchor="left", yanchor="top", bgcolor="white",
                 bordercolor="#111", borderwidth=1.5, font=dict(size=14.5), tracegroupgap=4,
                 traceorder="grouped", itemwidth=40, grouptitlefont=dict(size=14.5)),
    **layout,
)

fig.write_html("out.html")
